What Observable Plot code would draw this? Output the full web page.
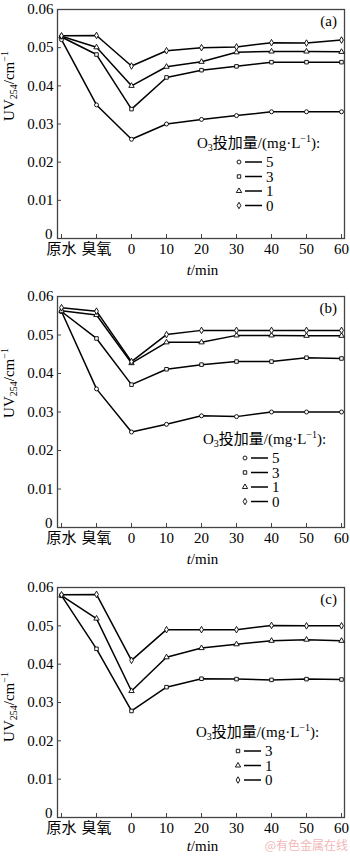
<!DOCTYPE html>
<html><head><meta charset="utf-8">
<script src="https://cdn.jsdelivr.net/npm/d3@7"></script>
<script src="https://cdn.jsdelivr.net/npm/@observablehq/plot@0.6"></script>
<style>
body{margin:0;background:#fff;}
#chart{width:350px;height:856px;overflow:hidden;}
#chart svg{display:block;}
</style></head><body><div id="chart"></div>
<script>
const categories = ["原水","臭氧","0","10","20","30","40","50","60"];
const yTicks = [0,0.01,0.02,0.03,0.04,0.05,0.06];
const doses = ["5","3","1","0"];
const symbols = ["circle","square","triangle","diamond"];

// Panel (a)
const a5 = [0.0521,0.0350,0.0260,0.0300,0.0312,0.0322,0.0332,0.0332,0.0332];
const a3 = [0.0528,0.0482,0.0339,0.0422,0.0441,0.0451,0.0462,0.0462,0.0462];
const a1 = [0.0530,0.0501,0.0400,0.0450,0.0463,0.0488,0.0490,0.0490,0.0489];
const a0 = [0.0531,0.0532,0.0452,0.0492,0.0500,0.0502,0.0513,0.0512,0.0520];
// Panel (b)
const b5 = [0.0561,0.0360,0.0248,0.0268,0.0290,0.0288,0.0300,0.0300,0.0300];
const b3 = [0.0561,0.0491,0.0371,0.0411,0.0423,0.0431,0.0431,0.0441,0.0439];
const b1 = [0.0563,0.0552,0.0427,0.0481,0.0481,0.0499,0.0499,0.0498,0.0498];
const b0 = [0.0571,0.0562,0.0431,0.0501,0.0512,0.0512,0.0512,0.0512,0.0512];
// Panel (c)
const c3 = [0.0579,0.0440,0.0278,0.0340,0.0362,0.0361,0.0359,0.0361,0.0360];
const c1 = [0.0579,0.0519,0.0330,0.0418,0.0442,0.0452,0.0461,0.0464,0.0461];
const c0 = [0.0581,0.0582,0.0410,0.0490,0.0490,0.0490,0.0501,0.0500,0.0500];

const FONT = "'Liberation Serif','Noto Sans CJK SC',serif";

function rows(seriesMap) {
  const out = [];
  for (const [dose, vals] of seriesMap) vals.forEach((v, i) => out.push({cat: categories[i], dose, v}));
  return out;
}

function panel({series, tag, height, mt, mb, legendDoses, legendDy, legendX, ylabelY, xTitleDy, watermark}) {
  const data = rows(series);
  const ML = 57, MR = 6, W = 350;
  const svg = Plot.plot({
    width: W, height, marginLeft: ML, marginRight: MR, marginTop: mt, marginBottom: mb,
    style: {fontFamily: FONT, fontSize: "15px", color: "#000", background: "#fff", overflow: "visible"},
    x: {type: "point", domain: categories, padding: 0, label: null},
    y: {domain: [0, 0.06], label: null},
    symbol: {domain: doses, range: symbols},
    marks: [
      Plot.frame({stroke: "#444", strokeWidth: 1.3}),
      Plot.axisX({ticks: categories, tickSize: 0, tickPadding: 5, fontSize: 15, label: null}),
      Plot.axisX({ticks: categories, tickSize: -4, text: null, stroke: "#444", label: null}),
      Plot.axisY({ticks: yTicks.filter(d => d !== 0), tickSize: 0, tickPadding: 4, tickFormat: d3.format(".2f"), fontSize: 15, label: null}),
      Plot.axisY({ticks: [0], tickSize: 0, tickPadding: 5, tickFormat: d => "0", dy: -4, fontSize: 15, label: null}),
      Plot.axisY({ticks: yTicks, tickSize: -4, text: null, stroke: "#444", label: null}),
      Plot.line(data, {x: "cat", y: "v", z: "dose", stroke: "#000", strokeWidth: 1.5}),
      Plot.dot(data, {x: "cat", y: "v", symbol: "dose", r: 2, fill: "#fff", stroke: "#000", strokeWidth: 0.9})
    ]
  });
  const s = d3.select(svg);
  const plotTop = mt, plotBottom = height - mb, right = W - MR;
  // panel tag
  s.append("text").attr("x", right - 7).attr("y", plotTop + 17).attr("text-anchor", "end")
    .attr("font-family", FONT).attr("font-size", 15).text(tag);
  // x title
  const xt = s.append("text").attr("x", (ML + right) / 2 + 2).attr("y", plotBottom + xTitleDy).attr("text-anchor", "middle")
    .attr("font-family", FONT).attr("font-size", 15);
  xt.append("tspan").attr("font-style", "italic").text("t");
  xt.append("tspan").text("/min");
  // y title
  const yt = s.append("text").attr("transform", `translate(14,${plotTop + ylabelY}) rotate(-90)`).attr("text-anchor", "middle")
    .attr("font-family", FONT).attr("font-size", 15);
  yt.append("tspan").text("UV");
  yt.append("tspan").attr("font-size", 10).attr("dy", 3).text("254");
  yt.append("tspan").attr("dy", -3).text("/cm");
  yt.append("tspan").attr("font-size", 10).attr("dy", -6).text("−1");
  // legend
  const lt = s.append("text").attr("x", legendX).attr("y", plotTop + legendDy).attr("text-anchor", "start")
    .attr("font-family", FONT).attr("font-size", 15);
  lt.append("tspan").text("O");
  lt.append("tspan").attr("font-size", 10).attr("dy", 3).text("3");
  lt.append("tspan").attr("dy", -3).text("投加量/(mg·L");
  lt.append("tspan").attr("font-size", 10).attr("dy", -6).text("−1");
  lt.append("tspan").attr("dy", 6).text("):");
  const symMap = {"5": d3.symbolCircle, "3": d3.symbolSquare, "1": d3.symbolTriangle, "0": d3.symbolDiamond};
  legendDoses.forEach((d, i) => {
    const cy = plotTop + legendDy + 14 + i * 14.5;
    const mx = legendX + 42;
    s.append("path").attr("d", d3.symbol(symMap[d], 12)()).attr("transform", `translate(${mx},${cy})`)
      .attr("fill", "#fff").attr("stroke", "#000").attr("stroke-width", 0.9);
    s.append("line").attr("x1", mx + 6).attr("x2", mx + 23).attr("y1", cy).attr("y2", cy).attr("stroke", "#000").attr("stroke-width", 1.5);
    s.append("text").attr("x", mx + 27).attr("y", cy + 5).attr("text-anchor", "start")
      .attr("font-family", FONT).attr("font-size", 15).text(d);
  });
  if (watermark) {
    s.append("text").attr("x", 348).attr("y", height - 6).attr("text-anchor", "end")
      .attr("font-family", "'Noto Sans CJK SC',sans-serif").attr("font-size", 12).attr("fill", "#f2b8b8").text(watermark);
  }
  return svg;
}

const root = document.getElementById("chart");
root.appendChild(panel({series: [["5", a5], ["3", a3], ["1", a1], ["0", a0]], tag: "(a)", height: 283, mt: 9, mb: 45,
  legendDoses: ["5","3","1","0"], legendDy: 139, legendX: 197, ylabelY: 77, xTitleDy: 37}));
root.appendChild(panel({series: [["5", b5], ["3", b3], ["1", b1], ["0", b0]], tag: "(b)", height: 284, mt: 13, mb: 40,
  legendDoses: ["5","3","1","0"], legendDy: 148, legendX: 203, ylabelY: 87, xTitleDy: 37}));
root.appendChild(panel({series: [["3", c3], ["1", c1], ["0", c0]], tag: "(c)", height: 289, mt: 20, mb: 39,
  legendDoses: ["3","1","0"], legendDy: 150, legendX: 196, ylabelY: 120, xTitleDy: 34, watermark: "@有色金属在线"}));
</script></body></html>
